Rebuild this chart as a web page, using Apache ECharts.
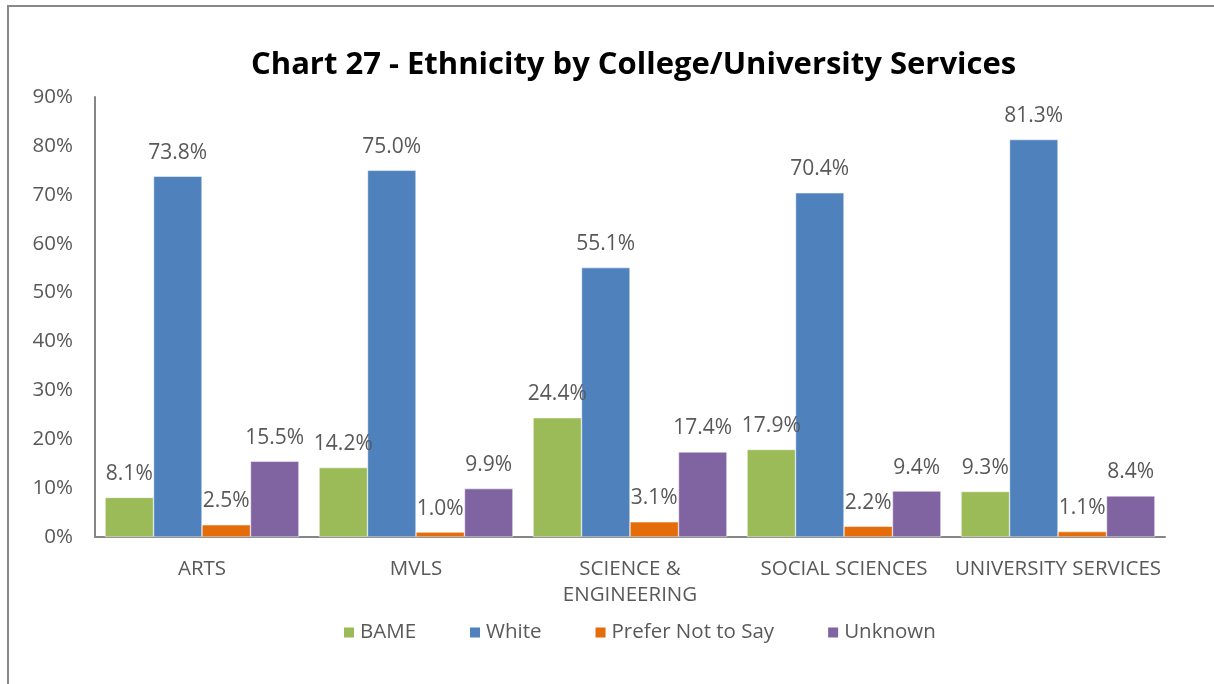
<!DOCTYPE html>
<html>
<head>
<meta charset="utf-8">
<title>Chart 27 - Ethnicity by College/University Services</title>
<script src="https://cdn.jsdelivr.net/npm/echarts@6/dist/echarts.min.js"></script>
<style>
  html, body { margin: 0; padding: 0; background: #fff; }
  #chart { width: 1214px; height: 684px; }
</style>
</head>
<body>
<div id="chart"></div>
<script>
// data
var colleges = ['ARTS', 'MVLS', 'SCIENCE & ENGINEERING', 'SOCIAL SCIENCES', 'UNIVERSITY SERVICES'];
var bame = [8.1, 14.2, 24.4, 17.9, 9.3];
var white = [73.8, 75.0, 55.1, 70.4, 81.3];
var preferNot = [2.5, 1.0, 3.1, 2.2, 1.1];
var unknown = [15.5, 9.9, 17.4, 9.4, 8.4];
var yTicks = [0, 10, 20, 30, 40, 50, 60, 70, 80, 90];

var fontFam = '"Open Sans", "Noto Sans", sans-serif';
var textGrey = '#595959';

function makeSeries(name, data, color) {
    return {
        name: name,
        type: 'bar',
        data: data,
        barGap: '0%',
        barCategoryGap: '9.4%',
        itemStyle: { color: color, borderColor: '#ffffff', borderWidth: 0.5 },
        label: {
            show: true,
            position: 'top',
            distance: 13,
            color: textGrey,
            fontFamily: fontFam,
            fontSize: 21,
            formatter: function (p) { return p.value.toFixed(1) + '%'; }
        }
    };
}

var chart = echarts.init(document.getElementById('chart'));
chart.setOption({
    backgroundColor: '#ffffff',
    animation: false,
    title: {
        text: 'Chart 27 - Ethnicity by College/University Services',
        left: 246,
        top: 45,
        textStyle: { fontFamily: fontFam, fontWeight: 'bold', fontSize: 31, color: '#000000' }
    },
    // outer chart frame (only left and top edges fall inside the picture)
    graphic: [{
        type: 'rect',
        shape: { x: 8, y: 6, width: 1300, height: 1000 },
        style: { fill: null, stroke: '#888888', lineWidth: 2 }
    }],
    legend: {
        top: 617,
        left: 337,
        icon: 'rect',
        itemWidth: 12,
        itemHeight: 12,
        itemGap: 52,
        textStyle: { fontFamily: fontFam, fontSize: 20.5, color: textGrey }
    },
    grid: { left: 95, right: 49, top: 97, bottom: 147, containLabel: false },
    xAxis: {
        type: 'category',
        data: colleges,
        axisLine: { lineStyle: { color: '#868686', width: 2 } },
        axisTick: { show: false },
        axisLabel: {
            interval: 0,
            margin: 19,
            color: textGrey,
            fontFamily: fontFam,
            fontSize: 20.5,
            lineHeight: 26,
            formatter: function (v) { return v.replace('& ', '&\n'); }
        }
    },
    yAxis: {
        type: 'value',
        min: yTicks[0],
        max: yTicks[yTicks.length - 1],
        interval: 10,
        axisLine: { show: true, lineStyle: { color: '#868686', width: 2 } },
        axisTick: { show: false },
        splitLine: { show: false },
        axisLabel: {
            margin: 22,
            color: textGrey,
            fontFamily: fontFam,
            fontSize: 20.5,
            formatter: '{value}%'
        }
    },
    series: [
        makeSeries('BAME', bame, '#9BBB59'),
        makeSeries('White', white, '#4F81BD'),
        makeSeries('Prefer Not to Say', preferNot, '#E46C0A'),
        makeSeries('Unknown', unknown, '#8064A2')
    ]
});
</script>
</body>
</html>
